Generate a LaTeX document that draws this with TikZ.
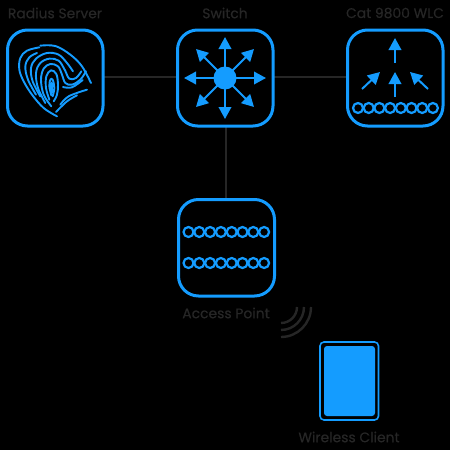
\documentclass[tikz,border=0pt]{standalone}
\usepackage{fontspec}
\setmainfont{Poppins}[FakeBold=0.5]
\usetikzlibrary{arrows.meta}
\definecolor{blu}{HTML}{149CFF}
\definecolor{ink}{HTML}{262626}
\tikzset{
  devbox/.style={draw=blu,line width=3pt,rounded corners=20pt},
  link/.style={draw=ink,line width=1.6pt},
  lab/.style={text=ink,font=\fontsize{13.9}{15}\selectfont,inner sep=0pt,anchor=center},
  arr/.style={draw=blu,line width=2pt,-{Triangle[length=12pt,width=12.5pt,fill=blu]}},
  fp/.style={draw=blu,line width=1.9pt,line cap=round,line join=round},
  bead/.style={draw=blu,line width=2.2pt},
  wave/.style={draw=ink,line width=2.4pt}
}
\begin{document}
\begin{tikzpicture}[x=1pt,y=-1pt]
\fill[black] (0,0) rectangle (450,450);
\useasboundingbox (0,0) rectangle (450,450);
\node[lab] (tR) at (55,13) {Radius Server};
\node[lab] (tS) at (225,13) {Switch};
\node[lab] (tW) at (395,13) {Cat 9800 WLC};
\node[lab] (tA) at (226,313) {Access Point};
\node[lab] (tC) at (349,437) {Wireless Client};
\coordinate (r1) at (104,77); \coordinate (s1) at (176,77);
\coordinate (s2) at (274,77); \coordinate (w1) at (346,77);
\coordinate (s3) at (226,127); \coordinate (a1) at (226,198);
\draw[link] (r1)--(s1); \draw[link] (s2)--(w1); \draw[link] (s3)--(a1);
\draw[devbox] (7.5,30) rectangle (103,126);
\draw[devbox] (177.5,30) rectangle (273,126);
\draw[devbox] (347.5,30) rectangle (443,126);
\draw[devbox] (178.5,199.5) rectangle (274.5,296);
% fingerprint
\begin{scope}[shift={(12,38)},x=0.3333pt,y=-0.3333pt]
\draw[fp] plot[smooth,tension=0.6] coordinates {(135,235)(95,210)(60,170)(35,130)(22,95)(25,60)(45,38)(82,28)};
\draw[fp] plot[smooth,tension=0.6] coordinates {(85,23)(130,24)(175,50)(210,85)(237,135)};
\draw[fp] plot[smooth,tension=0.6] coordinates {(72,170)(48,125)(40,85)(52,58)(75,45)};
\draw[fp] plot[smooth,tension=0.6] coordinates {(85,175)(62,130)(57,90)(72,62)(105,45)(140,50)(165,75)(183,100)};
\draw[fp] plot[smooth,tension=0.6] coordinates {(100,195)(78,150)(72,105)(85,75)(112,62)(140,68)(158,95)(172,122)(192,120)(208,100)};
\draw[fp] plot[smooth,tension=0.6] coordinates {(118,205)(95,170)(87,125)(95,92)(115,78)(138,85)(150,110)(160,135)(180,140)(205,125)(222,100)};
\draw[fp] plot[smooth,tension=0.6] coordinates {(112,185)(102,150)(103,115)(117,97)(133,108)(138,140)(135,170)(125,190)};
\draw[fp] plot[smooth,tension=0.6] coordinates {(118,172)(112,145)(115,125)(122,125)(127,150)(122,175)};
\draw[fp,line width=2.6pt] (119,135) -- (119,165);
\draw[fp] plot[smooth,tension=0.6] coordinates {(153,147)(180,148)(212,126)};
\draw[fp] plot[smooth,tension=0.6] coordinates {(145,200)(170,175)(225,155)};
\draw[fp] plot[smooth,tension=0.6] coordinates {(132,222)(165,190)(195,172)};
\end{scope}
% switch
\fill[blu] (225,78) circle (11.5);
\foreach \tx/\ty in {225/37,225/119,184/78,266/78,196/49,254/49,196/107,254/107}
  \draw[arr] (225,78) -- (\tx,\ty);
% wlc
\draw[arr] (395,63) -- (395,38);
\draw[arr] (395,97) -- (395,72);
\draw[arr] (362,89) -- (380,72);
\draw[arr] (428,89) -- (410,72);
\foreach \i in {0,...,7} \draw[bead] ({358+\i*10.7},108) circle (5);
\foreach \i in {0,...,7} {\draw[bead] ({188.5+\i*10.8},232) circle (5);
  \draw[bead] ({188.5+\i*10.8},263) circle (5);}
% waves
\foreach \r in {16,23,30}
  \draw[wave] ({281+\r},307) .. controls ({281+\r},{307+.552*\r}) and ({281+.552*\r},{307+\r}) .. (281,{307+\r});
% tablet
\draw[blu,line width=1.6pt,rounded corners=4pt] (320,342) rectangle (378.5,420);
\fill[blu,rounded corners=3pt] (324,346) rectangle (375,416);
\end{tikzpicture}
\end{document}
